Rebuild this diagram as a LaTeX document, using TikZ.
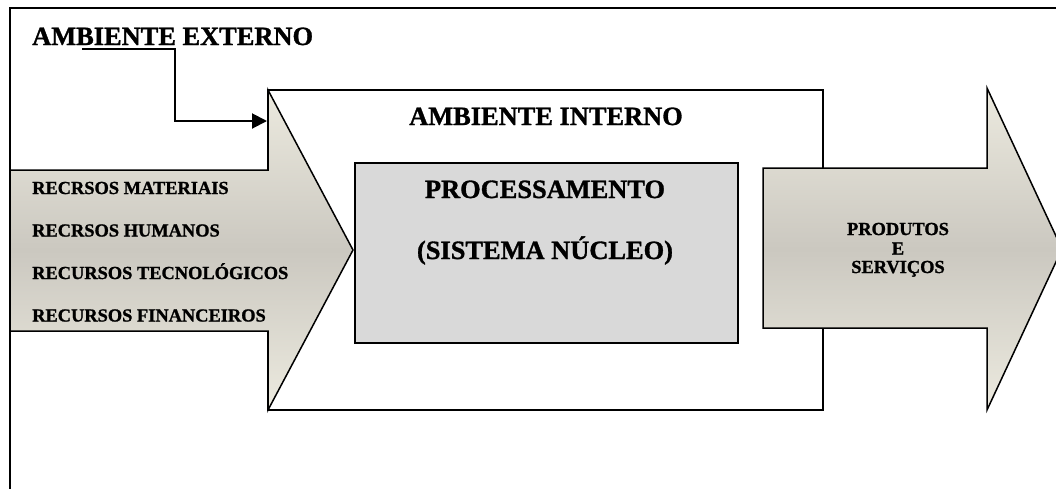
\documentclass[tikz,border=0pt]{standalone}
\usepackage{fontspec}
\setmainfont{Liberation Serif}
\newfontfamily\boldserif{Liberation Serif}[UprightFont={* Bold}, FakeBold=1.2]
\usetikzlibrary{arrows.meta}
\definecolor{arrowlight}{RGB}{236,234,223}
\definecolor{arrowmid}{RGB}{203,200,192}
\definecolor{boxgray}{RGB}{217,217,217}
\begin{document}
\begin{tikzpicture}[x=1pt,y=-1pt,
  big/.style={font=\boldserif\fontsize{26.4}{30}\selectfont, inner sep=0pt},
  small/.style={font=\boldserif\fontsize{18.4}{20}\selectfont, inner sep=0pt},
  shapeline/.style={draw=black, line width=1.5pt, line join=miter},
  bigarrow/.style={shapeline, top color=arrowlight, bottom color=arrowlight, middle color=arrowmid},
  connector/.style={line width=2pt, -{Triangle[length=15pt,width=15pt]}},
]
\useasboundingbox (0,0) rectangle (1056,488);
\clip (0,0) rectangle (1056,488);
\fill[white] (0,0) rectangle (1056,488);
% outer frame (only top and left sides fall inside the picture)
\draw[line width=1.6pt] (10,520) -- (10,8) -- (1080,8);
% internal environment
\draw[shapeline, fill=white] (268,90) rectangle (823,410);
% input arrow
\draw[bigarrow] (10,170) -- (268,170) -- (268,90) -- (353,250) -- (268,410) -- (268,331) -- (10,331) -- cycle;
% output arrow
\draw[bigarrow] (763,168) -- (987,168) -- (987,88) -- (1062,249) -- (987,410) -- (987,328) -- (763,328) -- cycle;
% processing box
\node[draw, line width=1.5pt, fill=boxgray, minimum width=383pt, minimum height=180pt, anchor=north west, inner sep=0pt] (proc) at (354,162) {};
% texts
\node[big, anchor=base west] (ext) at (32,45) {AMBIENTE EXTERNO};
\node[big, anchor=base] (int) at (546,125) {AMBIENTE INTERNO};
\node[big, anchor=base] (proc1) at (545,198) {PROCESSAMENTO};
\node[big, anchor=base] (proc2) at (545,259) {(SISTEMA NÚCLEO)};
\node[small, anchor=base west] (r1) at (32,194) {RECRSOS MATERIAIS};
\node[small, anchor=base west] (r2) at (32,236.5) {RECRSOS HUMANOS};
\node[small, anchor=base west] (r3) at (32,279) {RECURSOS TECNOLÓGICOS};
\node[small, anchor=base west] (r4) at (32,321.5) {RECURSOS FINANCEIROS};
\node[small, anchor=base] (p1) at (898,235) {PRODUTOS};
\node[small, anchor=base] (p2) at (898,254.5) {E};
\node[small, anchor=base] (p3) at (898,273) {SERVIÇOS};
% connector from external environment to the internal one
\coordinate (cstart) at (82,49);
\coordinate (cend) at (267,121);
\draw[connector] (cstart) -- (175,49) -- (175,121) -- (cend);
\end{tikzpicture}
\end{document}
